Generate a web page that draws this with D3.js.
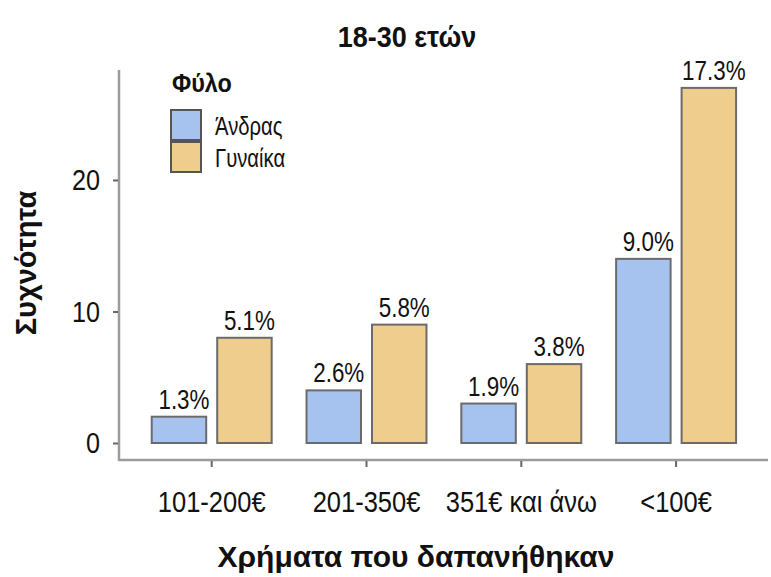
<!DOCTYPE html>
<html>
<head>
<meta charset="utf-8">
<script src="https://cdn.jsdelivr.net/npm/d3@7"></script>
<style>
  body { margin: 0; background: #fff; }
  svg { display: block; }
  text { font-family: "Liberation Sans", Arial, sans-serif; fill: #111; }
</style>
</head>
<body>
<svg id="chart" width="771" height="577"></svg>
<script>
// ---- data ----
const categories = ["101-200€", "201-350€", "351€ και άνω", "<100€"];
const series = ["Άνδρας", "Γυναίκα"];
const menCounts = [2, 4, 3, 14];
const womenCounts = [8, 9, 6, 27];
const menPct = ["1.3%", "2.6%", "1.9%", "9.0%"];
const womenPct = ["5.1%", "5.8%", "3.8%", "17.3%"];
const yTicks = [0, 10, 20];
const colors = ["#a6c3f0", "#efcd8c"];
const title = "18-30 ετών";
const xTitle = "Χρήματα που δαπανήθηκαν";
const yTitle = "Συχνότητα";
const legendTitle = "Φύλο";

const rows = categories.map((c, i) => ({
  cat: c,
  vals: [
    { s: series[0], v: menCounts[i], p: menPct[i] },
    { s: series[1], v: womenCounts[i], p: womenPct[i] }
  ]
}));

// horizontally condense text (the reference uses a narrow face)
function squeeze(sel, sx) {
  sel.each(function () {
    const t = d3.select(this);
    const tx = +t.attr("x") || 0, ty = +t.attr("y") || 0;
    const prev = t.attr("transform") || "";
    t.attr("x", null).attr("y", null)
      .attr("transform", `${prev} translate(${tx},${ty}) scale(${sx},1)`);
  });
}

const svg = d3.select("#chart");

const x = d3.scaleBand().domain(categories).range([134.3, 753.5])
  .paddingInner(0.225).paddingOuter(0.1125);
const xs = d3.scaleBand().domain(series).range([0, x.bandwidth()]).paddingInner(0.168);
const y = d3.scaleLinear().domain([0, 28.36]).range([443, 70]);
const color = d3.scaleOrdinal().domain(series).range(colors);

const axisX0 = 119, axisY0 = 460;

// axis lines
svg.append("line").attr("x1", axisX0).attr("x2", axisX0).attr("y1", y(28.36)).attr("y2", axisY0 + 1)
  .attr("stroke", "#9c9c9c").attr("stroke-width", 2.5);
svg.append("line").attr("x1", axisX0).attr("x2", 768).attr("y1", axisY0).attr("y2", axisY0)
  .attr("stroke", "#9c9c9c").attr("stroke-width", 2.5);

// y axis
const gy = svg.append("g").attr("transform", `translate(${axisX0 - 1},0)`)
  .call(d3.axisLeft(y).tickValues(yTicks).tickSize(5).tickPadding(13).tickFormat(d3.format("d")));
gy.select(".domain").remove();
gy.selectAll(".tick line").attr("stroke", "#666").attr("stroke-width", 2);
gy.selectAll(".tick text").attr("font-size", 30).attr("fill", "#111")
  .attr("font-family", '"Liberation Sans", Arial, sans-serif');
squeeze(gy.selectAll(".tick text"), 0.84);

// x axis
const gx = svg.append("g").attr("transform", `translate(0,${axisY0 + 1})`)
  .call(d3.axisBottom(x).tickSize(6).tickPadding(24));
gx.select(".domain").remove();
gx.selectAll(".tick line").attr("stroke", "#666").attr("stroke-width", 2);
gx.selectAll(".tick text").attr("font-size", 30).attr("fill", "#111")
  .attr("font-family", '"Liberation Sans", Arial, sans-serif');
squeeze(gx.selectAll(".tick text"), 0.85);

// bars
const groups = svg.append("g").selectAll("g").data(rows).join("g")
  .attr("transform", d => `translate(${x(d.cat)},0)`);
groups.selectAll("rect").data(d => d.vals).join("rect")
  .attr("x", d => xs(d.s))
  .attr("y", d => y(d.v))
  .attr("width", xs.bandwidth())
  .attr("height", d => y(0) - y(d.v))
  .attr("fill", d => color(d.s))
  .attr("stroke", "#6b6b6b")
  .attr("stroke-width", 2);
const lbl = groups.selectAll("text.lbl").data(d => d.vals).join("text")
  .attr("class", "lbl")
  .attr("x", d => xs(d.s) + xs.bandwidth() / 2 + 5)
  .attr("y", d => y(d.v) - 8)
  .attr("text-anchor", "middle")
  .attr("font-size", 27)
  .text(d => d.p);
squeeze(lbl, 0.83);

// title
const tt = svg.append("text").attr("x", 407).attr("y", 47).attr("text-anchor", "middle")
  .attr("font-size", 30).attr("font-weight", "bold").text(title);
squeeze(tt, 0.9);

// x title
svg.append("text").attr("x", 416).attr("y", 567).attr("text-anchor", "middle")
  .attr("font-size", 30).attr("font-weight", "bold").text(xTitle);

// y title
svg.append("text").attr("transform", "translate(36,263) rotate(-90)").attr("text-anchor", "middle")
  .attr("font-size", 29).attr("font-weight", "bold").text(yTitle);

// legend
const lg = svg.append("g");
const lt = lg.append("text").attr("x", 172).attr("y", 92).attr("font-size", 26).attr("font-weight", "bold").text(legendTitle);
squeeze(lt, 0.9);
const li = lg.selectAll("g.item").data(series).join("g").attr("class", "item")
  .attr("transform", (d, i) => `translate(171,${110 + i * 32})`);
li.append("rect").attr("width", 30).attr("height", 30)
  .attr("fill", d => color(d)).attr("stroke", "#555").attr("stroke-width", 2);
const ltx = li.append("text").attr("x", 44).attr("y", 25).attr("font-size", 26).text(d => d);
squeeze(ltx, 0.78);
</script>
</body>
</html>
